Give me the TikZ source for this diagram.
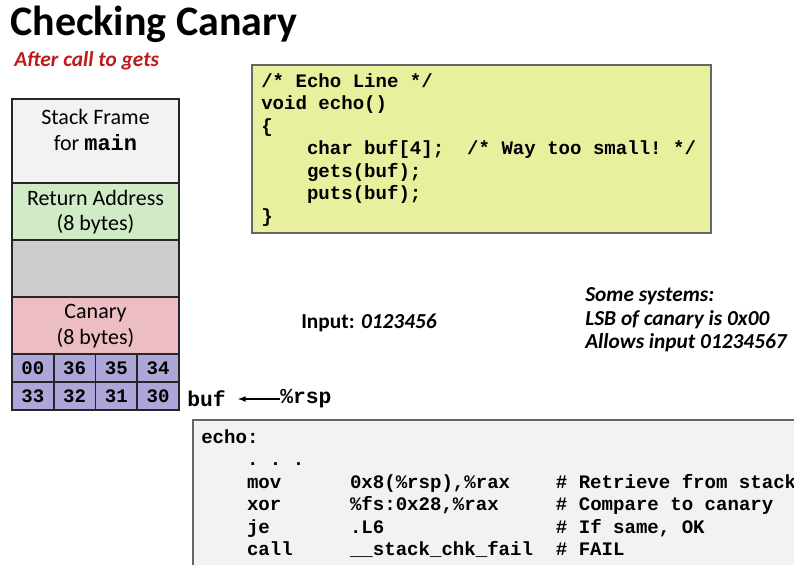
\documentclass[tikz,border=0pt]{standalone}
\usepackage{fontspec}
\setmainfont{Carlito}
\setmonofont{Liberation Mono}
\usetikzlibrary{positioning}
\definecolor{framecolor}{rgb}{0.95,0.95,0.95}
\definecolor{retcolor}{rgb}{0.82,0.92,0.78}
\definecolor{padcolor}{rgb}{0.80,0.80,0.80}
\definecolor{canarycolor}{rgb}{0.93,0.74,0.77}
\definecolor{bytecolor}{rgb}{0.68,0.65,0.85}
\definecolor{codecolor}{rgb}{0.91,0.94,0.62}
\definecolor{titlered}{rgb}{0.75,0.10,0.10}
\tikzset{
  slot/.style={draw=black!85, line width=1.2pt},
  bytecell/.style={slot, fill=bytecolor},
  codebox/.style={draw=black!60, line width=0.8pt},
  tt/.style={font=\ttfamily\bfseries\fontsize{14.3}{16.9}\selectfont, inner sep=0pt},
  slottext/.style={align=center, font=\fontsize{16.5}{19}\selectfont}
}
\begin{document}
\begin{tikzpicture}[x=0.75pt,y=-0.75pt]
\useasboundingbox (0,0) rectangle (794,565);
% title
\node[anchor=west, inner sep=0pt, font=\bfseries\fontsize{31.5}{34}\selectfont] (title) at (10,24) {Checking Canary};
\node[anchor=west, inner sep=0pt, font=\bfseries\itshape\fontsize{16}{18}\selectfont, text=titlered] (sub) at (14,61) {After call to gets};
% stack
\draw[slot, fill=framecolor] (12,99) rectangle (179,183);
\draw[slot, fill=retcolor] (12,183) rectangle (179,240);
\draw[slot, fill=padcolor] (12,240) rectangle (179,297);
\draw[slot, fill=canarycolor] (12,297) rectangle (179,354);
\node[slottext] (frame) at (95.5,130) {Stack Frame\\for \texttt{\textbf{main}}};
\node[slottext] (ret) at (95.5,212) {Return Address\\(8 bytes)};
\node[slottext] (canary) at (95.5,326) {Canary\\(8 bytes)};
% bytes
\foreach \v [count=\i from 0] in {00,36,35,34} {
  \draw[bytecell] (12+41.75*\i,354) rectangle (53.75+41.75*\i,382);
  \node[tt] at (32.9+41.75*\i,368) {\v};
}
\foreach \v [count=\i from 0] in {33,32,31,30} {
  \draw[bytecell] (12+41.75*\i,382) rectangle (53.75+41.75*\i,410);
  \node[tt] at (32.9+41.75*\i,396) {\v};
}
\node[tt, anchor=west, font=\ttfamily\bfseries\fontsize{16}{18}\selectfont] (buf) at (187,399) {buf};
\node[tt, anchor=west, font=\ttfamily\bfseries\fontsize{16}{18}\selectfont] (rsp) at (280,399) {\%rsp};
\draw[-latex, line width=1pt] (rsp.west) -- ++(-42,0) coordinate (tip);
% C code
\draw[codebox, fill=codecolor] (252,65) rectangle (711,233);
\node[tt, anchor=north west, align=left] (ccode) at (261,73) {%
/* Echo Line */\\void echo()\\\{\\
\ \ \ \ char buf[4];\ \ /* Way too small! */\\
\ \ \ \ gets(buf);\\\ \ \ \ puts(buf);\\\}};
% input
\node[font=\bfseries\fontsize{16}{18}\selectfont] (input) at (369,323) {Input: \textit{0123456}};
\node[anchor=west, inner sep=0pt, align=left, font=\bfseries\itshape\fontsize{16}{17.6}\selectfont] (note) at (585,320) {Some systems:\\LSB of canary is 0x00\\Allows input 01234567};
% assembly
\draw[codebox, fill=framecolor] (193,420) rectangle (800,570);
\node[tt, anchor=north west, align=left] (asm) at (201,429) {%
echo:\\
\ \ \ \ . . .\\
\ \ \ \ mov\ \ \ \ \ \ 0x8(\%rsp),\%rax\ \ \ \ \# Retrieve from stack\\
\ \ \ \ xor\ \ \ \ \ \ \%fs:0x28,\%rax\ \ \ \ \ \# Compare to canary\\
\ \ \ \ je\ \ \ \ \ \ \ .L6\ \ \ \ \ \ \ \ \ \ \ \ \ \ \ \# If same, OK\\
\ \ \ \ call\ \ \ \ \ \_\_stack\_chk\_fail\ \ \# FAIL};
\end{tikzpicture}
\end{document}
